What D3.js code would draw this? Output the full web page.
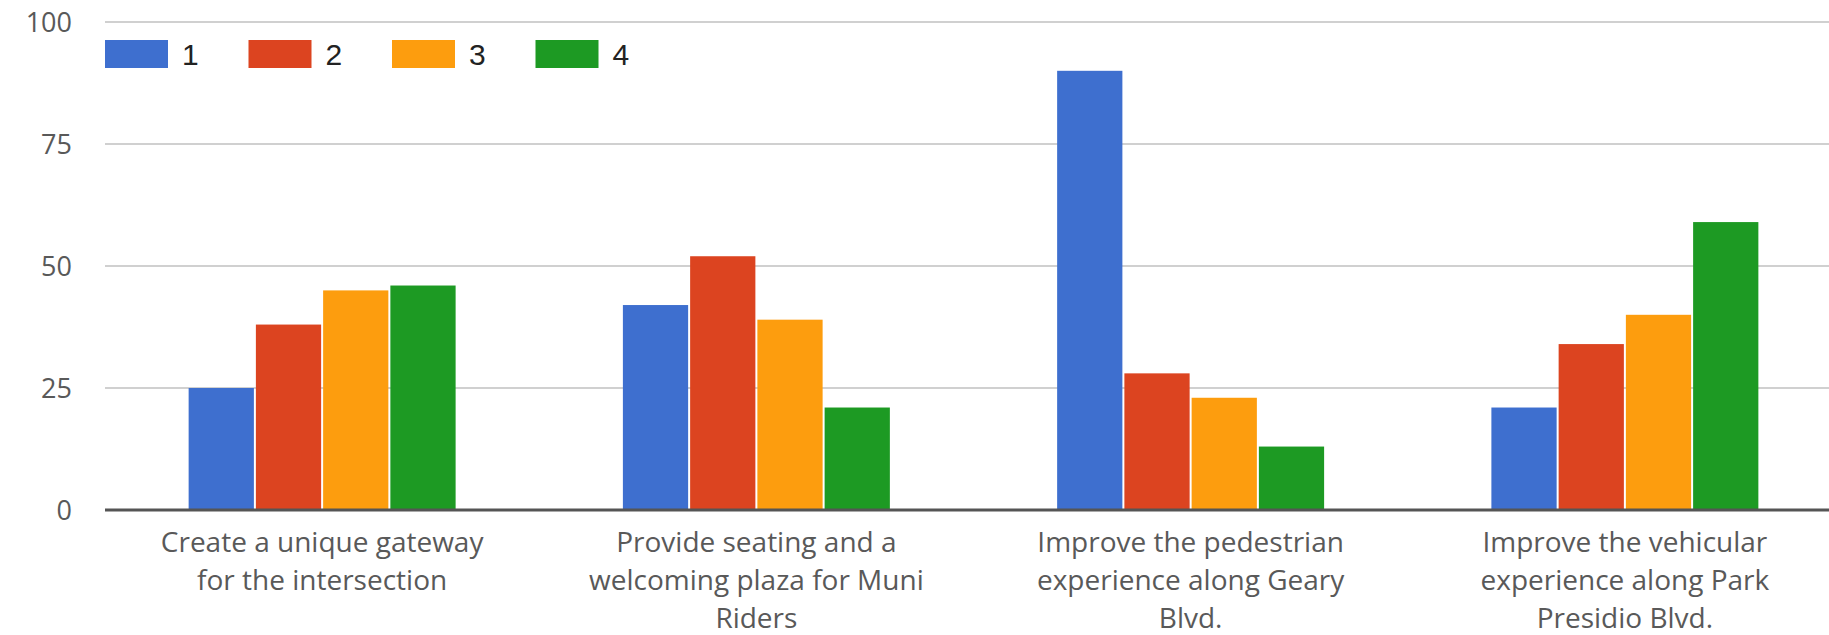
<!DOCTYPE html>
<html><head><meta charset="utf-8">
<script src="https://cdn.jsdelivr.net/npm/d3@7"></script>
<style>
html,body{margin:0;padding:0;background:#fff;overflow:hidden;}
svg{display:block;}
</style></head>
<body>
<svg id="chart" width="1829" height="635"></svg>
<script>
// ---- data ----
const categories = [
  ["Create a unique gateway", "for the intersection"],
  ["Provide seating and a", "welcoming plaza for Muni", "Riders"],
  ["Improve the pedestrian", "experience along Geary", "Blvd."],
  ["Improve the vehicular", "experience along Park", "Presidio Blvd."]
];
const seriesNames = ["1", "2", "3", "4"];
const series1 = [25, 42, 90, 21];
const series2 = [38, 52, 28, 34];
const series3 = [45, 39, 23, 40];
const series4 = [46, 21, 13, 59];
const yTicks = [0, 25, 50, 75, 100];
const colors = ["#3e6fcf", "#dc4420", "#fd9d0e", "#1d9a23"];

const seriesValues = [series1, series2, series3, series4];

const svg = d3.select("#chart");
const catKeys = categories.map((c, i) => i);

const x0 = d3.scaleBand().domain(catKeys).range([105, 1842])
  .paddingInner(0.3806).paddingOuter(0.1903);
const x1 = d3.scaleBand().domain(seriesNames).range([0, x0.bandwidth()]).padding(0);
const y = d3.scaleLinear().domain([0, 100]).range([510, 22]);

// gridlines
const grid = svg.append("g");
grid.selectAll("line").data(yTicks.filter(t => t !== 0)).join("line")
  .attr("x1", 105).attr("x2", 1829)
  .attr("y1", d => y(d)).attr("y2", d => y(d))
  .attr("stroke", "#d0d0d0").attr("stroke-width", 2);

// y axis labels
const yAxis = d3.axisLeft(y).tickValues(yTicks).tickSize(0).tickPadding(0);
const yg = svg.append("g").attr("transform", "translate(72,0)").call(yAxis);
yg.select(".domain").remove();
yg.selectAll("text")
  .attr("font-family", "'Open Sans', sans-serif")
  .attr("font-size", 27)
  .attr("fill", "#595959")
  .attr("dy", "0.36em");

// bars
const groups = svg.append("g").selectAll("g").data(catKeys).join("g")
  .attr("transform", d => `translate(${x0(d)},0)`);
groups.selectAll("rect")
  .data(ci => seriesNames.map((s, si) => ({s, si, v: seriesValues[si][ci]})))
  .join("rect")
  .attr("x", d => x1(d.s) + 1)
  .attr("width", x1.bandwidth() - 2)
  .attr("y", d => y(d.v))
  .attr("height", d => y(0) - y(d.v))
  .attr("fill", d => colors[d.si]);

// baseline
svg.append("line")
  .attr("x1", 105).attr("x2", 1829)
  .attr("y1", y(0)).attr("y2", y(0))
  .attr("stroke", "#555").attr("stroke-width", 3);

// category labels
const xl = svg.append("g");
categories.forEach((lines, ci) => {
  const cx = x0(ci) + x0.bandwidth() / 2;
  const t = xl.append("text")
    .attr("text-anchor", "middle")
    .attr("font-family", "'Open Sans', sans-serif")
    .attr("font-size", 28)
    .attr("fill", "#595959");
  lines.forEach((ln, li) => {
    t.append("tspan").attr("x", cx).attr("y", 552 + li * 38).text(ln);
  });
});

// legend
const legend = svg.append("g");
const lg = legend.selectAll("g").data(seriesNames).join("g")
  .attr("transform", (d, i) => `translate(${105 + i * 143.5},40)`);
lg.append("rect").attr("width", 63).attr("height", 28)
  .attr("fill", (d, i) => colors[i]);
lg.append("text").attr("x", 77).attr("y", 25)
  .attr("font-family", "'Liberation Sans', Arial, sans-serif")
  .attr("font-size", 30)
  .attr("fill", "#222")
  .text(d => d);
</script>
</body></html>
